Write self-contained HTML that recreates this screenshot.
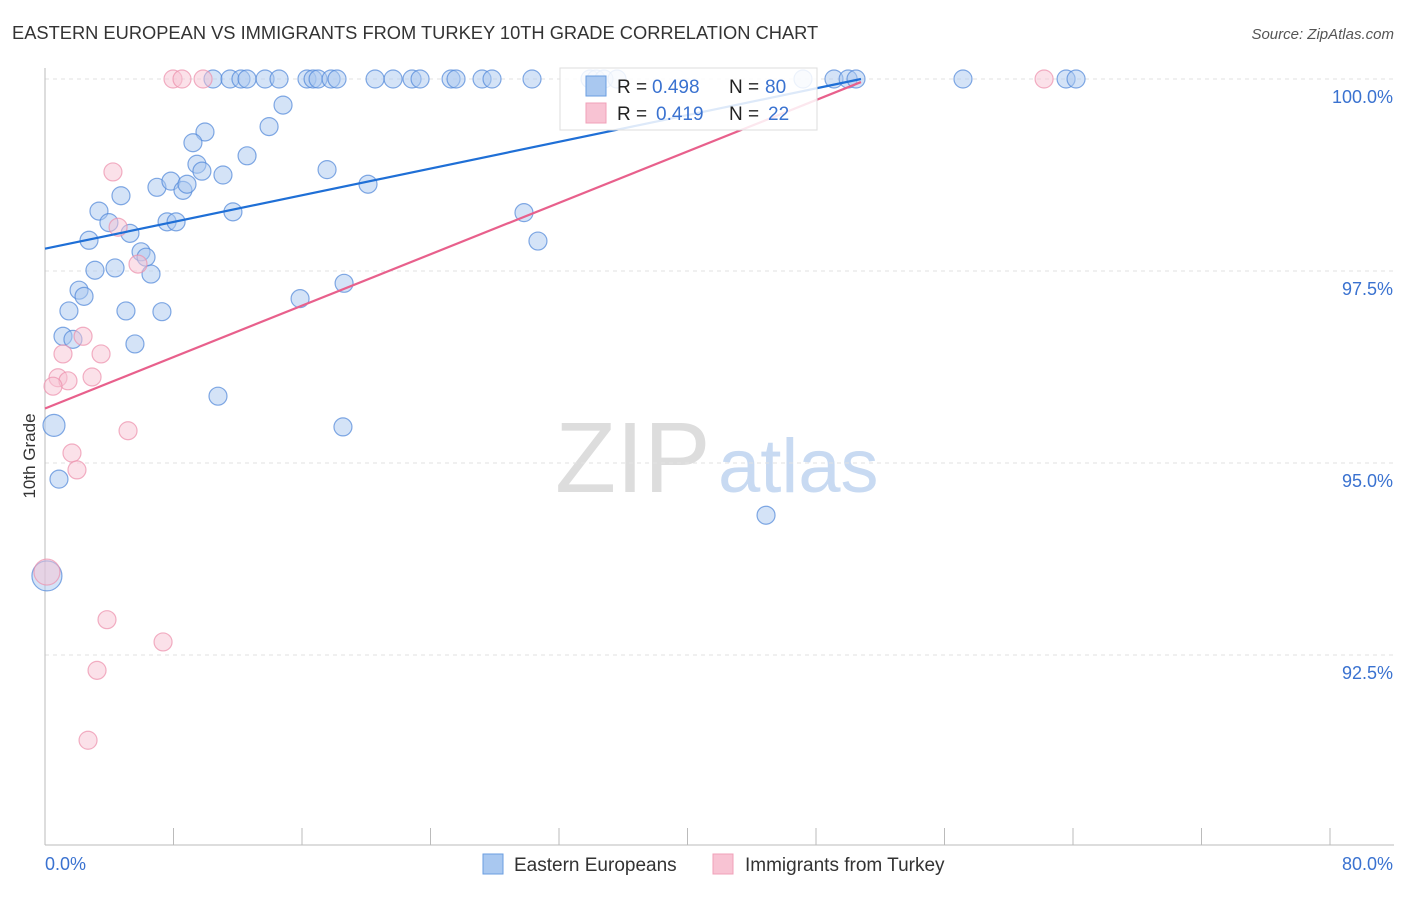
<!DOCTYPE html>
<html><head><meta charset="utf-8"><style>
body{margin:0;background:#fff;font-family:"Liberation Sans",sans-serif}
svg text{font-family:"Liberation Sans",sans-serif}
</style></head><body>
<svg id="c" width="1406" height="892">
<text x="12" y="39" font-size="18.3" fill="#333">EASTERN EUROPEAN VS IMMIGRANTS FROM TURKEY 10TH GRADE CORRELATION CHART</text>
<text x="1394" y="39" font-size="15" fill="#555" text-anchor="end" font-style="italic">Source: ZipAtlas.com</text>
<text x="35" y="456" font-size="17" fill="#333" transform="rotate(-90 35 456)" text-anchor="middle">10th Grade</text>
<text x="555" y="492" font-size="100" fill="#ddd" font-family="Liberation Serif">ZIP</text>
<text x="718" y="492" font-size="76" fill="#c8daf2">atlas</text>
<g id="grid"></g><g id="axes"></g><g id="pts"></g><g id="trend"></g>
<g>
<rect x="560" y="68" width="257" height="62" fill="#fff" fill-opacity="0.85" stroke="#ddd"/>
<rect x="586" y="76" width="20" height="20" fill="#a9c8f0" stroke="#6a9ee0"/>
<rect x="586" y="103" width="20" height="20" fill="#f8c3d3" stroke="#f0a0b8"/>
<text x="617" y="93" font-size="19" fill="#222">R =</text>
<text x="652" y="93" font-size="19" fill="#3a72d0">0.498</text>
<text x="729" y="93" font-size="19" fill="#222">N =</text>
<text x="765" y="93" font-size="19" fill="#3a72d0">80</text>
<text x="617" y="120" font-size="19" fill="#222">R =</text>
<text x="656" y="120" font-size="19" fill="#3a72d0">0.419</text>
<text x="729" y="120" font-size="19" fill="#222">N =</text>
<text x="768" y="120" font-size="19" fill="#3a72d0">22</text>
</g>
<g>
<rect x="483" y="854" width="20" height="20" fill="#a9c8f0" stroke="#6a9ee0"/>
<text x="514" y="871" font-size="19" fill="#333">Eastern Europeans</text>
<rect x="713" y="854" width="20" height="20" fill="#f8c3d3" stroke="#f0a0b8"/>
<text x="745" y="871" font-size="19" fill="#333">Immigrants from Turkey</text>
</g>
</svg>
<script>
const xTicks=[0,8,16,24,32,40,48,56,64,72,80];
const yTicks=[92.5,95,97.5,100];
const yTickLabels=["92.5%","95.0%","97.5%","100.0%"];
const blueX=[10.46,11.52,12.20,12.58,13.70,14.57,16.31,16.69,17.00,17.81,18.18,20.55,21.67,22.85,23.35,25.28,25.59,27.21,27.83,30.32,33.93,34.31,34.80,35.61,47.19,49.12,50.00,50.49,57.15,63.57,64.19,
14.82,9.96,13.95,9.21,12.58,9.46,9.77,11.08,17.56,6.97,7.84,8.59,8.84,20.11,4.73,3.36,11.70,29.82,3.98,7.60,8.16,5.29,2.74,30.69,5.98,6.29,3.11,4.36,6.60,2.12,2.43,18.62,15.88,5.04,1.49,7.28,1.12,1.74,5.60,10.77,0.56,18.55,0.87,44.89,0.12];
const blueY=[100,100,100,100,100,100,100,100,100,100,100,100,100,100,100,100,100,100,100,100,100,100,100,100,100,100,100,100,100,100,100,
99.66,99.31,99.38,99.17,99.00,98.89,98.80,98.75,98.82,98.59,98.67,98.55,98.63,98.63,98.48,98.28,98.27,98.26,98.13,98.14,98.14,97.99,97.90,97.89,97.75,97.68,97.51,97.54,97.46,97.25,97.17,97.34,97.14,96.98,96.98,96.97,96.65,96.61,96.55,95.87,95.49,95.47,94.79,94.32,93.53];
const blueR=blueX.map((v,i)=>i==blueX.length-1?15:(i==blueX.length-5?11:9));
const pinkX=[7.97,8.53,9.84,62.20,4.23,4.55,5.79,2.37,1.12,3.49,0.81,2.93,1.43,0.50,5.17,1.68,1.99,0.12,3.86,7.35,3.24,2.68];
const pinkY=[100,100,100,100,98.79,98.07,97.59,96.65,96.42,96.42,96.11,96.12,96.07,96.00,95.42,95.13,94.91,93.58,92.96,92.67,92.30,91.39];
const blueTrend=[[0,97.79],[50.8,100]];
const pinkTrend=[[0,95.71],[50.8,99.96]];
const X=v=>45+v/80*1285, Y=v=>79+(100-v)/2.5*192;
const NS="http://www.w3.org/2000/svg";
function mk(t,a,p){const e=document.createElementNS(NS,t);for(const k in a)e.setAttribute(k,a[k]);p.appendChild(e);return e;}
const grid=document.getElementById('grid'),axes=document.getElementById('axes'),pts=document.getElementById('pts'),tr=document.getElementById('trend');
yTicks.forEach((t,i)=>{const l=mk('line',{x1:45,x2:1394,y1:Y(t),y2:Y(t),stroke:'#e2e2e2','stroke-dasharray':'4,4'},grid);


const tx=mk('text',{x:1393,y:Y(t)+24,'font-size':18,fill:'#3a72d0','text-anchor':'end'},axes);tx.textContent=yTickLabels[i];

});
const ax=mk('line',{x1:45,x2:1394,y1:845,y2:845,stroke:'#bbb'},axes);


const ay=mk('line',{x1:45,x2:45,y1:68,y2:845,stroke:'#bbb'},axes);


xTicks.forEach(t=>{const l=mk('line',{x1:X(t),x2:X(t),y1:828,y2:845,stroke:'#bbb'},axes);

});
let t0=mk('text',{x:45,y:870,'font-size':18,fill:'#3a72d0'},axes);t0.textContent='0.0%';


let t1=mk('text',{x:1393,y:870,'font-size':18,fill:'#3a72d0','text-anchor':'end'},axes);t1.textContent='80.0%';


blueX.forEach((v,i)=>{const c=mk('circle',{cx:X(v),cy:Y(blueY[i]),r:blueR[i],fill:'#a9c8f0','fill-opacity':0.5,stroke:'#4f86d8','stroke-opacity':0.7,'stroke-width':1.2},pts);

});
pinkX.forEach((v,i)=>{const c=mk('circle',{cx:X(v),cy:Y(pinkY[i]),r:i==17?13:9,fill:'#f8c3d3','fill-opacity':0.5,stroke:'#ec8fab','stroke-opacity':0.7,'stroke-width':1.2},pts);

});
const lb=mk('line',{x1:X(blueTrend[0][0]),y1:Y(blueTrend[0][1]),x2:X(blueTrend[1][0]),y2:Y(blueTrend[1][1]),stroke:'#1f6fd6','stroke-width':2.2},tr);


const lp=mk('line',{x1:X(pinkTrend[0][0]),y1:Y(pinkTrend[0][1]),x2:X(pinkTrend[1][0]),y2:Y(pinkTrend[1][1]),stroke:'#e8608c','stroke-width':2.2},tr);


</script>
</body></html>
